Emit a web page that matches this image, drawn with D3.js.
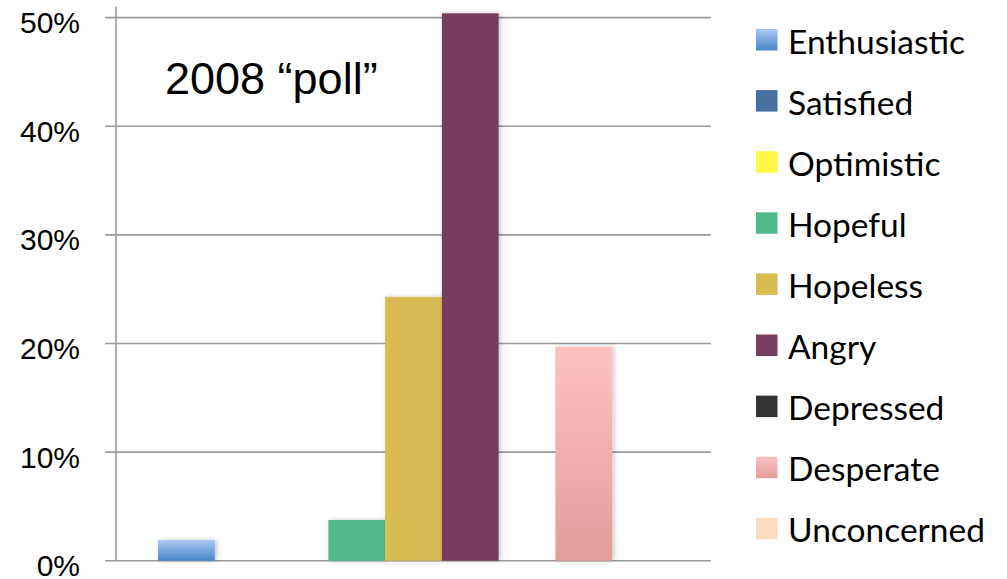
<!DOCTYPE html>
<html>
<head>
<meta charset="utf-8">
<script src="https://cdn.jsdelivr.net/npm/d3@7/dist/d3.min.js"></script>
<style>
  html, body { margin: 0; padding: 0; background: #ffffff; }
  svg { display: block; }
</style>
</head>
<body>
<svg id="chart" width="1007" height="579"></svg>
<script>
// ---- data ----
const categories = ["Enthusiastic", "Satisfied", "Optimistic", "Hopeful", "Hopeless", "Angry", "Depressed", "Desperate", "Unconcerned"];
const values = [0.019, 0, 0, 0.0375, 0.243, 0.504, 0, 0.197, 0];
const yTicks = [0, 0.1, 0.2, 0.3, 0.4, 0.5];
const tickLabels = ["0%", "10%", "20%", "30%", "40%", "50%"];
const title = "2008 \u201Cpoll\u201D";

// colours (top, bottom) per category
const colorTop = ["#aac8f6", "#46709f", "#fff645", "#52b98c", "#d8bc52", "#773e5e", "#333333", "#fdc1c1", "#fddcc2"];
const colorBottom = ["#4986c9", "#46709f", "#fff645", "#52b98c", "#d8bc52", "#773e5e", "#333333", "#e39d9b", "#fddcc2"];

const svg = d3.select("#chart");
const defs = svg.append("defs");

categories.forEach((c, i) => {
  const g = defs.append("linearGradient")
    .attr("id", "grad" + i)
    .attr("x1", 0).attr("y1", 0).attr("x2", 0).attr("y2", 1);
  g.append("stop").attr("offset", "0%").attr("stop-color", colorTop[i]);
  g.append("stop").attr("offset", "100%").attr("stop-color", colorBottom[i]);
});

const shadow = defs.append("filter").attr("id", "shadow")
  .attr("x", "-20%").attr("y", "-20%").attr("width", "140%").attr("height", "140%");
shadow.append("feDropShadow")
  .attr("dx", 2).attr("dy", 0).attr("stdDeviation", 2.5)
  .attr("flood-color", "#000").attr("flood-opacity", 0.22);

// ---- scales ----
const plotLeft = 116, plotRight = 711, plotBottom = 560.7, plotTop = 6.8;
const x = d3.scaleBand().domain(categories).range([plotLeft, plotRight])
  .paddingInner(0).paddingOuter(0.74);
const y = d3.scaleLinear().domain([0, 0.51]).range([plotBottom, plotTop]);

// gridlines
svg.append("g").selectAll("line").data(yTicks).join("line")
  .attr("x1", plotLeft - 11).attr("x2", plotRight)
  .attr("y1", d => y(d)).attr("y2", d => y(d))
  .attr("stroke", "#9a9a9a").attr("stroke-width", 1.6);

// vertical axis line
svg.append("line")
  .attr("x1", plotLeft).attr("x2", plotLeft)
  .attr("y1", y(0.51)).attr("y2", y(0))
  .attr("stroke", "#9a9a9a").attr("stroke-width", 1.6);

// y labels
svg.append("g").selectAll("text").data(yTicks).join("text")
  .attr("x", 80).attr("y", d => y(d) + 5)
  .attr("text-anchor", "end")
  .attr("dominant-baseline", "central")
  .attr("font-family", "'Liberation Sans', Arial, sans-serif")
  .attr("font-size", 30)
  .attr("fill", "#000")
  .text((d, i) => tickLabels[i]);

// bars
svg.append("g").selectAll("rect").data(categories).join("rect")
  .filter((d, i) => values[i] > 0)
  .attr("x", d => x(d))
  .attr("width", x.bandwidth())
  .attr("y", d => y(values[categories.indexOf(d)]))
  .attr("height", d => y(0) - y(values[categories.indexOf(d)]))
  .attr("fill", d => "url(#grad" + categories.indexOf(d) + ")")
  .attr("filter", "url(#shadow)");

// title
svg.append("text")
  .attr("x", 165).attr("y", 94)
  .attr("font-family", "'Liberation Sans', Arial, sans-serif")
  .attr("font-size", 45)
  .attr("fill", "#000")
  .text(title);

// legend
const legend = svg.append("g");
const rows = legend.selectAll("g").data(categories).join("g")
  .attr("transform", (d, i) => `translate(756, ${29 + i * 61.1})`);
rows.append("rect")
  .attr("width", 21.5).attr("height", 21.5)
  .attr("fill", (d, i) => "url(#grad" + i + ")");
rows.append("text")
  .attr("x", 32).attr("y", 24.5)
  .attr("font-family", "Lato, 'Open Sans', sans-serif")
  .attr("font-size", 33.5)
  .attr("fill", "#000")
  .text(d => d);
</script>
</body>
</html>
